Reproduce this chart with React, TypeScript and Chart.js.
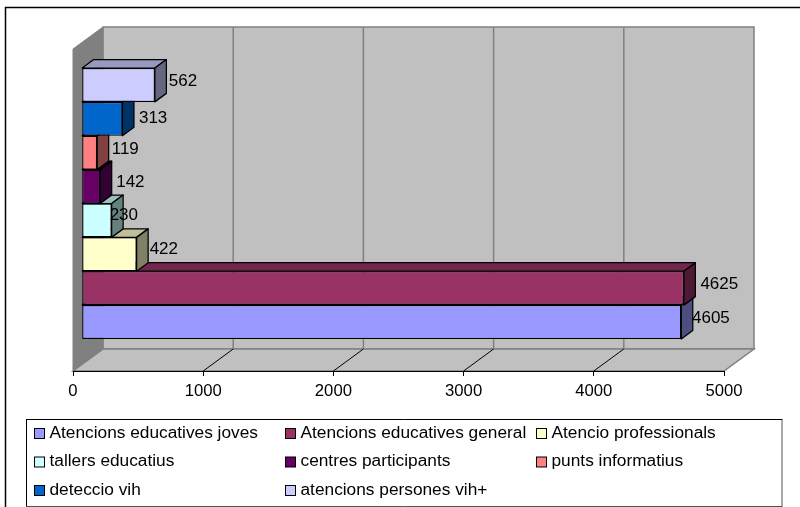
import React, { useEffect, useRef } from "react";
import Chart from "chart.js/auto";

const seriesNames = [
  "Atencions educatives joves",
  "Atencions educatives general",
  "Atencio professionals",
  "tallers educatius",
  "centres participants",
  "punts informatius",
  "deteccio vih",
  "atencions persones vih+",
];
const seriesValues = [4605, 4625, 422, 230, 142, 119, 313, 562];
const seriesColors = ["#9999FF", "#993366", "#FFFFCC", "#CCFFFF", "#660066", "#FF8080", "#0066CC", "#CCCCFF"];
const labelNudgeX = [10.7, 16.5, 13, -2, 16, 14.5, 16.5, 14];
const labelNudgeY = [-4, -4, -5, -5, -4, -3.5, -1, -4];
const legendColumns = [34, 285, 536];
const legendRows = [433, 461.5, 490];

const FONT = "'Liberation Sans', Arial, sans-serif";
const WALL_DX = 30;
const WALL_DY = -22;
const BAR_DX = 8.7;
const BAR_DY = -6.5;
const DEPTH_DX = 11.5;
const DEPTH_DY = -8.5;

function shade(hex: string, f: number) {
  const n = parseInt(hex.slice(1), 16);
  const c = [(n >> 16) & 255, (n >> 8) & 255, n & 255].map((v) => Math.round(v * f));
  return `rgb(${c[0]},${c[1]},${c[2]})`;
}

function poly(ctx: CanvasRenderingContext2D, pts: number[][], fill: string, stroke: string, lw = 1) {
  ctx.beginPath();
  pts.forEach((p, i) => (i ? ctx.lineTo(p[0], p[1]) : ctx.moveTo(p[0], p[1])));
  ctx.closePath();
  ctx.fillStyle = fill;
  ctx.fill();
  ctx.strokeStyle = stroke;
  ctx.lineWidth = lw;
  ctx.stroke();
}

function line(ctx: CanvasRenderingContext2D, x0: number, y0: number, x1: number, y1: number, c: string, lw: number) {
  ctx.beginPath();
  ctx.moveTo(x0, y0);
  ctx.lineTo(x1, y1);
  ctx.strokeStyle = c;
  ctx.lineWidth = lw;
  ctx.stroke();
}

const scene3d = {
  id: "scene3d",
  beforeDraw(chart: any) {
    const { ctx, chartArea: a, scales } = chart;
    const { left, right, top, bottom } = a;
    ctx.save();
    ctx.fillStyle = "#fff";
    ctx.fillRect(0, 0, chart.width, chart.height);
    line(ctx, 5.5, 7, 5.5, chart.height, "#000", 1.5);
    line(ctx, 5, 7.5, chart.width, 7.5, "#000", 1.5);
    const bl = left + WALL_DX;
    const br = right + WALL_DX;
    const bt = top + WALL_DY;
    const bb = bottom + WALL_DY;
    poly(ctx, [[bl, bt], [br, bt], [br, bb], [bl, bb]], "#C0C0C0", "#808080", 1.5);
    poly(ctx, [[left, bottom], [bl, bb], [br, bb], [right, bottom]], "#C0C0C0", "#808080", 1.5);
    poly(ctx, [[left, top], [bl, bt], [bl, bb], [left, bottom]], "#808080", "#808080", 1);
    scales.x.ticks.forEach((t: any) => {
      if (t.value <= 0 || t.value >= 5000) return;
      const x = scales.x.getPixelForValue(t.value);
      line(ctx, x + WALL_DX, bt, x + WALL_DX, bb, "#808080", 1.5);
      line(ctx, x, bottom, x + WALL_DX, bb, "#000", 1);
    });
    ctx.restore();
  },
  beforeDatasetDraw(chart: any, args: any) {
    const { ctx } = chart;
    const el = args.meta.data[0];
    const p = el.getProps(["x", "y", "base", "height"], true);
    const x0 = p.base + BAR_DX;
    const x1 = p.x + BAR_DX;
    const y0 = p.y - p.height / 2 + BAR_DY;
    const y1 = p.y + p.height / 2 + BAR_DY;
    const col = seriesColors[args.index];
    ctx.save();
    ctx.lineJoin = "round";
    poly(ctx, [[x0, y0], [x0 + DEPTH_DX, y0 + DEPTH_DY], [x1 + DEPTH_DX, y0 + DEPTH_DY], [x1, y0]], shade(col, 0.75), "#000", 1.25);
    poly(ctx, [[x1, y0], [x1 + DEPTH_DX, y0 + DEPTH_DY], [x1 + DEPTH_DX, y1 + DEPTH_DY], [x1, y1]], shade(col, 0.5), "#000", 1.25);
    ctx.restore();
    ctx.save();
    ctx.translate(BAR_DX, BAR_DY);
  },
  afterDatasetDraw(chart: any) {
    chart.ctx.restore();
  },
  afterDatasetsDraw(chart: any) {
    const { ctx } = chart;
    ctx.save();
    ctx.font = `17px ${FONT}`;
    ctx.fillStyle = "#000";
    ctx.textBaseline = "middle";
    ctx.textAlign = "left";
    chart.data.datasets.forEach((d: any, i: number) => {
      const el = chart.getDatasetMeta(i).data[0];
      ctx.fillText(String(d.data[0]), el.x + BAR_DX + labelNudgeX[i], el.y + BAR_DY + labelNudgeY[i]);
    });
    ctx.restore();
  },
  afterDraw(chart: any) {
    const { ctx } = chart;
    ctx.save();
    ctx.fillStyle = "#fff";
    ctx.fillRect(26.5, 419.5, 755.5, 87);
    line(ctx, 26, 419.5, 782.5, 419.5, "#000", 1);
    line(ctx, 26.5, 419, 26.5, 506.5, "#000", 1);
    line(ctx, 782, 419.5, 782, 506.5, "#555", 1);
    line(ctx, 26, 506.5, 782.5, 506.5, "#555", 1);
    ctx.font = `17.3px ${FONT}`;
    ctx.textBaseline = "middle";
    ctx.textAlign = "left";
    chart.data.datasets.forEach((d: any, i: number) => {
      const cx = legendColumns[i % 3];
      const cy = legendRows[Math.floor(i / 3)];
      ctx.fillStyle = d.backgroundColor;
      ctx.fillRect(cx + 0.5, cy - 4.5, 10, 10);
      ctx.strokeStyle = "#000";
      ctx.lineWidth = 1;
      ctx.strokeRect(cx + 0.5, cy - 4.5, 10, 10);
      ctx.fillStyle = "#000";
      ctx.fillText(d.label, cx + 15.5, cy);
    });
    ctx.restore();
  },
};

export default function App() {
  const ref = useRef<HTMLCanvasElement>(null);
  useEffect(() => {
    const chart = new Chart(ref.current!, {
      type: "bar",
      data: {
        labels: [""],
        datasets: seriesNames.map((label, i) => ({
          label,
          data: [seriesValues[i]],
          backgroundColor: seriesColors[i],
          borderColor: "#000",
          borderWidth: 1.25,
          borderSkipped: false,
          order: seriesNames.length - 1 - i,
          categoryPercentage: 0.8416,
          barPercentage: 1,
        })),
      },
      options: {
        indexAxis: "y",
        responsive: false,
        animation: false,
        layout: { padding: { left: 73, top: 49, right: 76, bottom: 106 } },
        plugins: { legend: { display: false }, tooltip: { enabled: false }, title: { display: false } },
        scales: {
          y: { display: false },
          x: {
            min: 0,
            max: 5000,
            afterFit: (s: any) => {
              s.height = 30;
            },
            ticks: {
              stepSize: 1000,
              color: "#000",
              padding: 5,
              maxRotation: 0,
              font: { family: FONT, size: 16.7 },
              callback: (v: any) => String(v),
            },
            grid: { drawOnChartArea: false, drawTicks: true, tickLength: 5, tickColor: "#000", color: "#000" },
            border: { display: true, color: "#000", width: 1 },
          },
        },
      },
      plugins: [scene3d],
    } as any);
    return () => chart.destroy();
  }, []);
  return (
    <div style={{ position: "fixed", left: 0, top: 0, width: 800, height: 507, background: "#fff" }}>
      <canvas ref={ref} width={800} height={507} style={{ display: "block" }} />
    </div>
  );
}
